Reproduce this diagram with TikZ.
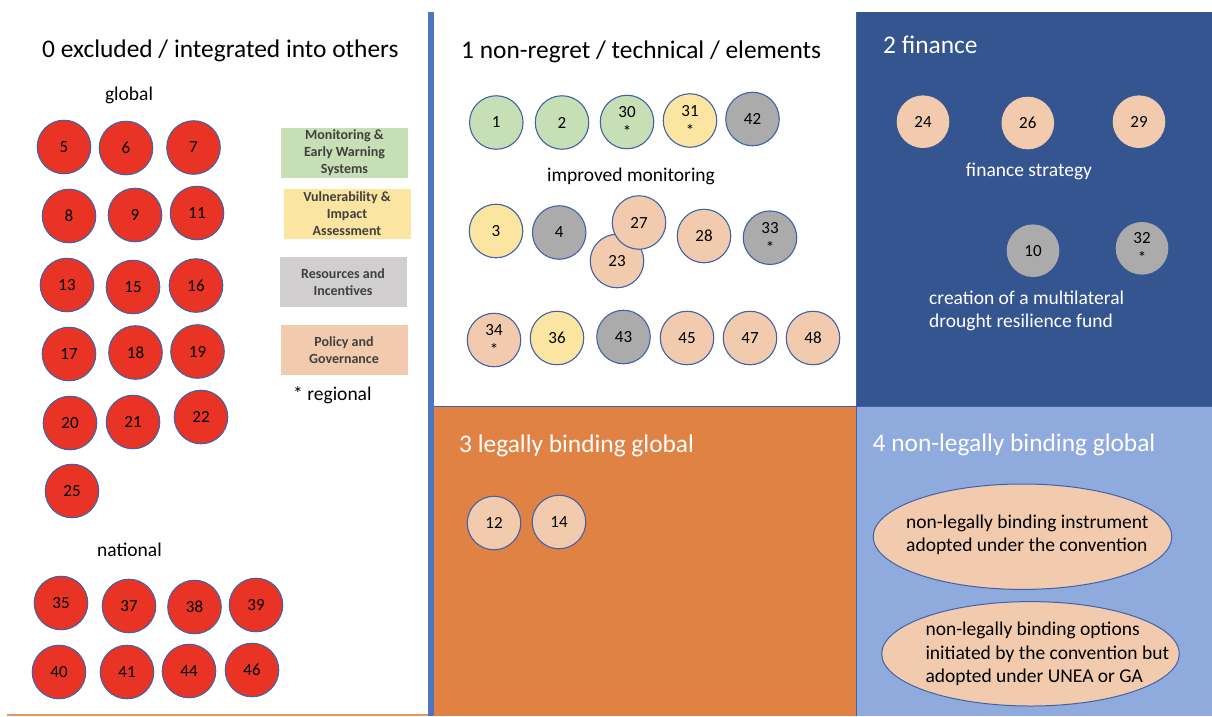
\documentclass[tikz,border=0pt]{standalone}
\usepackage{fontspec}
\setmainfont{Carlito}
\usetikzlibrary{shapes.geometric}
\definecolor{cred}{RGB}{233,51,36}
\definecolor{cedge}{RGB}{66,98,168}
\definecolor{cgreen}{RGB}{199,223,180}
\definecolor{cyellow}{RGB}{251,229,160}
\definecolor{cgray}{RGB}{171,171,171}
\definecolor{cpeach}{RGB}{242,203,174}
\definecolor{clegray}{RGB}{208,206,206}
\definecolor{cdark}{RGB}{53,85,145}
\definecolor{clight}{RGB}{143,170,220}
\definecolor{corange}{RGB}{224,130,67}
\definecolor{cbar}{RGB}{79,116,194}
\definecolor{coline}{RGB}{230,150,95}
\definecolor{clegtext}{RGB}{64,64,64}
\begin{document}
\begin{tikzpicture}[x=1pt,y=-1pt,
  bub/.style={circle,minimum size=53.5pt,inner sep=0pt,draw=cedge,line width=1.1pt,
    font=\fontsize{17}{20}\selectfont,text=black,align=center},
  rb/.style={bub,fill=cred},
  gb/.style={bub,fill=cgreen},
  yb/.style={bub,fill=cyellow},
  sb/.style={bub,fill=cgray},
  pb/.style={bub,fill=cpeach},
  fbub/.style={circle,minimum size=52.6pt,inner sep=0pt,
    font=\fontsize{17}{20}\selectfont,text=black,align=center},
  heading/.style={anchor=base west,inner sep=0pt,font=\fontsize{25.4}{30}\selectfont},
  lbl/.style={inner sep=0pt,font=\fontsize{19.5}{23.5}\selectfont},
  legbox/.style={minimum width=127pt,minimum height=50pt,inner sep=0pt,align=center,
    font=\bfseries\fontsize{14}{17}\selectfont,text=clegtext},
  oval/.style={ellipse,inner sep=0pt,fill=cpeach,draw=cedge,line width=1pt}
]
\useasboundingbox (0,0) rectangle (1212,716);
\fill[white] (0,0) rectangle (1212,716);

% panels
\fill[cdark] (857,12) rectangle (1212,407);
\fill[corange] (434,407) rectangle (856,716);
\fill[clight] (856,407) rectangle (1212,716);
\draw[cedge,line width=0.8pt] (434,406.8) -- (1212,406.8);
\draw[cedge,line width=0.8pt] (856.3,12) -- (856.3,716);
\fill[cbar] (427.5,12) rectangle (434.3,716);
\fill[coline] (7,714.3) rectangle (427.5,716);

% headings
\node[heading] (t0) at (42,57) {0 excluded / integrated into others};
\node[heading] (t1) at (461,58) {1 non-regret / technical / elements};
\node[heading,text=white] (t2) at (883,53.5) {2 finance};
\node[heading,text=white] (t3) at (459,452.5) {3 legally binding global};
\node[heading,text=white] (t4) at (872.5,451.7) {4 non-legally binding global};

% panel 0
\node[lbl,anchor=base] (glob) at (129,100) {global};
\node[rb] (c5) at (64,147) {5};
\node[rb] (c6) at (126,148) {6};
\node[rb] (c7) at (193.5,147.5) {7};
\node[rb] (c8) at (69,216) {8};
\node[rb] (c9) at (135,215) {9};
\node[rb] (c11) at (197,213) {11};
\node[rb] (c13) at (67,285) {13};
\node[rb] (c15) at (133,287) {15};
\node[rb] (c16) at (196,285.5) {16};
\node[rb] (c17) at (69,354) {17};
\node[rb] (c18) at (135.5,352.5) {18};
\node[rb] (c19) at (197.5,351.5) {19};
\node[rb] (c20) at (70,423) {20};
\node[rb] (c21) at (133,422) {21};
\node[rb] (c22) at (201,417) {22};
\node[rb] (c25) at (72,491) {25};
\node[lbl,anchor=base] (natl) at (129.5,556.5) {national};
\node[rb] (c35) at (61,603) {35};
\node[rb] (c37) at (129,606) {37};
\node[rb] (c38) at (194.5,607) {38};
\node[rb] (c39) at (256,605) {39};
\node[rb] (c40) at (59,672) {40};
\node[rb] (c41) at (127,672) {41};
\node[rb] (c44) at (189,671) {44};
\node[rb] (c46) at (252,670) {46};

% legend
\node[legbox,fill=cgreen] (lg1) at (344.5,153) {Monitoring \&\\Early Warning\\Systems};
\node[legbox,fill=cyellow] (lg2) at (347,214) {Vulnerability \&\\Impact\\Assessment};
\node[legbox,fill=clegray] (lg3) at (343,282) {Resources and\\Incentives};
\node[legbox,fill=cpeach] (lg4) at (344,350) {Policy and\\Governance};
\node[lbl,anchor=base west] (reg) at (293,400.5) {* regional};

% panel 1
\node[gb] (c1) at (496.3,122.5) {1};
\node[gb] (c2) at (562,122.5) {2};
\node[gb] (c30) at (627,122) {30\\*};
\node[yb] (c31) at (690,120.5) {31\\*};
\node[sb] (c42) at (752.5,119) {42};
\node[lbl,anchor=base] (imp) at (631,181.5) {improved monitoring};
\node[yb] (c3) at (496,231) {3};
\node[sb] (c4) at (559.2,232.5) {4};
\node[pb] (c23) at (617,261) {23};
\node[pb] (c27) at (639,222.5) {27};
\node[pb] (c28) at (704,236) {28};
\node[sb] (c33) at (770,237.7) {33\\*};
\node[pb] (c34) at (494,340) {34\\*};
\node[yb] (c36) at (557,338) {36};
\node[sb] (c43) at (623.5,337) {43};
\node[pb] (c45) at (687,338) {45};
\node[pb] (c47) at (750,338) {47};
\node[pb] (c48) at (813,338) {48};

% panel 2
\node[fbub,fill=cpeach] (c24) at (923,121.7) {24};
\node[fbub,fill=cpeach] (c26) at (1027.8,123) {26};
\node[fbub,fill=cpeach] (c29) at (1139,121.7) {29};
\node[lbl,anchor=base,text=white] (fs) at (1029,176) {finance strategy};
\node[fbub,fill=cgray] (c10) at (1033,250.7) {10};
\node[fbub,fill=cgray] (c32) at (1142,248.3) {32\\*};
\node[lbl,anchor=base west,align=left,text=white] (fund) at (929,327.5) {creation of a multilateral\\drought resilience fund};

% panel 3
\node[pb] (c12) at (494,523) {12};
\node[pb] (c14) at (559,522) {14};

% panel 4
\node[oval,minimum width=298.6pt,minimum height=105.4pt] (e1) at (1022.5,536.7) {};
\node[lbl,anchor=base west,align=left] (e1t) at (906,551.8) {non-legally binding instrument\\adopted under the convention};
\node[oval,minimum width=297.6pt,minimum height=104.4pt] (e2) at (1030.5,653.8) {};
\node[lbl,anchor=base west,align=left] (e2t) at (925.3,682.5) {non-legally binding options\\initiated by the convention but\\adopted under UNEA or GA};
\end{tikzpicture}
\end{document}
